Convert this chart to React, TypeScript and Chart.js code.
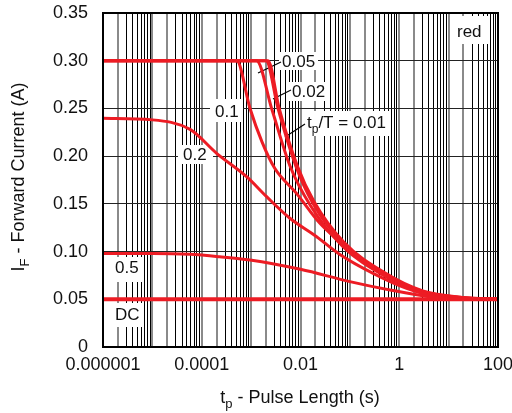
import React, { useEffect, useRef } from "react";
import { Chart, registerables } from "chart.js";

Chart.register(...registerables);

// ---- data (t in seconds, I in amperes) ----
const dcT = [1e-6, 100];
const dcI = [0.05, 0.05];

const d05T = [1e-6, 1e-5, 5.7e-5, 2.3e-4, 9.5e-4, 0.01, 0.1, 0.65, 3, 7.6, 30, 100];
const d05I = [0.098, 0.098, 0.0971, 0.0946, 0.0912, 0.0814, 0.0685, 0.0597, 0.0538, 0.0508, 0.05, 0.05];

const d02T = [1e-6, 1e-5, 5.8e-5, 2e-4, 8.1e-4, 2.06e-3, 6.1e-3, 0.0212, 0.0628, 0.296, 1.41, 6.6, 30, 100];
const d02I = [0.2396, 0.238, 0.228, 0.203, 0.1785, 0.1575, 0.1349, 0.1156, 0.097, 0.0772, 0.0615, 0.052, 0.0501, 0.05];

const d01T = [1e-6, 5.1e-4, 9.5e-4, 1.66e-3, 3.03e-3, 8.3e-3, 0.0247, 0.1, 0.45, 3, 19, 100];
const d01I = [0.3, 0.3, 0.25, 0.215, 0.187, 0.161, 0.1296, 0.1016, 0.0765, 0.057, 0.0515, 0.05];

const d005T = [1e-6, 1.29e-3, 2.6e-3, 6.1e-3, 0.016, 0.07, 0.45, 3, 20, 100];
const d005I = [0.3, 0.3, 0.25, 0.19, 0.148, 0.106, 0.076, 0.0575, 0.0513, 0.05];

const d002T = [1e-6, 2.0e-3, 3.5e-3, 8.0e-3, 0.0178, 0.072, 0.47, 3.05, 19.4, 100];
const d002I = [0.3, 0.3, 0.25, 0.19, 0.1506, 0.1087, 0.0772, 0.058, 0.0517, 0.05];

const d001T = [1e-6, 2.2e-3, 3.7e-3, 8.6e-3, 0.019, 0.075, 0.5, 3.1, 19.4, 100];
const d001I = [0.3, 0.3, 0.25, 0.19, 0.152, 0.11, 0.078, 0.0585, 0.052, 0.05];

const xLabelValues = [1e-6, 1e-4, 1e-2, 1, 100];
const xTickLabels = ["0.000001", "0.0001", "0.01", "1", "100"];
const yTickLabels = ["0", "0.05", "0.10", "0.15", "0.20", "0.25", "0.30", "0.35"];

const RED = "#ED1C24";
const FONT = "'Liberation Sans', Arial, sans-serif";

const pts = (t: number[], i: number[]) => t.map((v, k) => ({ x: v, y: i[k] }));

const series = [
  { t: dcT, i: dcI, w: 4 },
  { t: d05T, i: d05I, w: 3 },
  { t: d02T, i: d02I, w: 3 },
  { t: d01T, i: d01I, w: 3 },
  { t: d005T, i: d005I, w: 3 },
  { t: d002T, i: d002I, w: 3 },
  { t: d001T, i: d001I, w: 3 },
];

const mantissa = (v: number) => {
  const e = Math.floor(Math.log10(v) + 1e-9);
  return Math.round(v / Math.pow(10, e));
};

const annotPlugin = {
  id: "annot",
  beforeDatasetsDraw(chart: any) {
    const ctx = chart.ctx;
    ctx.save();
    ctx.fillStyle = "#fff";
    const boxes = [
      [452, 16, 37, 28],
      [279, 52, 39, 18],
      [289, 82, 39, 19],
      [303, 111, 86, 25],
      [210, 99, 33, 23],
      [178, 145, 35, 19],
      [111, 257, 32, 25],
      [111, 303, 32, 24],
    ];
    boxes.forEach((b) => ctx.fillRect(b[0], b[1], b[2], b[3]));
    ctx.fillStyle = "#111";
    ctx.font = `17px ${FONT}`;
    ctx.textBaseline = "alphabetic";
    ctx.textAlign = "left";
    ctx.fillText("red", 457, 37);
    ctx.fillText("0.05", 282, 67);
    ctx.fillText("0.02", 292, 97);
    ctx.fillText("0.1", 215, 117);
    ctx.fillText("0.2", 183, 160);
    ctx.fillText("0.5", 115, 273);
    ctx.fillText("DC", 115, 320);
    // tp/T = 0.01
    let x = 307;
    ctx.fillText("t", x, 128);
    x += ctx.measureText("t").width;
    ctx.font = `12px ${FONT}`;
    ctx.fillText("p", x, 133);
    x += ctx.measureText("p").width;
    ctx.font = `17px ${FONT}`;
    ctx.fillText("/T = 0.01", x, 128);
    // leaders
    ctx.strokeStyle = "#000";
    ctx.lineWidth = 1.2;
    const leaders = [
      [281, 62, 258, 73],
      [291, 90, 273, 99],
      [305, 124, 285, 137],
    ];
    leaders.forEach((l) => {
      ctx.beginPath();
      ctx.moveTo(l[0], l[1]);
      ctx.lineTo(l[2], l[3]);
      ctx.stroke();
    });
    ctx.restore();
  },
  afterDraw(chart: any) {
    const ctx = chart.ctx;
    const a = chart.chartArea;
    ctx.save();
    ctx.strokeStyle = "#000";
    ctx.lineWidth = 2;
    ctx.strokeRect(a.left, a.top, a.right - a.left, a.bottom - a.top);
    // x title
    ctx.fillStyle = "#111";
    ctx.textBaseline = "alphabetic";
    ctx.textAlign = "left";
    const big = `18px ${FONT}`;
    const small = `13px ${FONT}`;
    ctx.font = big;
    const wT = ctx.measureText("t").width;
    const wRest = ctx.measureText(" - Pulse Length (s)").width;
    ctx.font = small;
    const wP = ctx.measureText("p").width;
    let x = 300 - (wT + wP + wRest) / 2;
    ctx.font = big;
    ctx.fillText("t", x, 403);
    x += wT;
    ctx.font = small;
    ctx.fillText("p", x, 408);
    x += wP;
    ctx.font = big;
    ctx.fillText(" - Pulse Length (s)", x, 403);
    // y title
    ctx.translate(24, 177);
    ctx.rotate(-Math.PI / 2);
    ctx.font = big;
    const wI = ctx.measureText("I").width;
    const wR2 = ctx.measureText(" - Forward Current (A)").width;
    ctx.font = small;
    const wF = ctx.measureText("F").width;
    let y = -(wI + wF + wR2) / 2;
    ctx.font = big;
    ctx.fillText("I", y, 0);
    y += wI;
    ctx.font = small;
    ctx.fillText("F", y, 5);
    y += wF;
    ctx.font = big;
    ctx.fillText(" - Forward Current (A)", y, 0);
    ctx.restore();
  },
};

export default function App() {
  const ref = useRef<HTMLCanvasElement | null>(null);
  useEffect(() => {
    document.body.style.margin = "0";
    const canvas = ref.current!;
    const chart = new Chart(canvas, {
      type: "line",
      data: {
        datasets: series.map((s) => ({
          data: pts(s.t, s.i),
          borderColor: RED,
          borderWidth: s.w,
          pointRadius: 0,
          fill: false,
          cubicInterpolationMode: "monotone" as const,
        })),
      },
      options: {
        animation: false,
        responsive: false,
        devicePixelRatio: 1,
        layout: { autoPadding: false, padding: { left: 0, right: 14, top: 13, bottom: 0 } },
        plugins: { legend: { display: false }, tooltip: { enabled: false } },
        scales: {
          x: {
            type: "logarithmic",
            min: 1e-6,
            max: 100,
            border: { display: false },
            afterBuildTicks: (scale: any) => {
              const ticks: any[] = [];
              for (let e = -6; e <= 2; e++) {
                for (let m = 1; m <= 9; m++) {
                  const v = m * Math.pow(10, e);
                  if (v <= 100.0001) ticks.push({ value: v });
                }
              }
              scale.ticks = ticks;
            },
            afterFit: (scale: any) => {
              scale.height = 66;
              scale.paddingLeft = 0;
              scale.paddingRight = 0;
            },
            grid: {
              drawTicks: false,
              color: (c: any) => {
                const v = c.tick?.value;
                if (!v) return "#000";
                const m = mantissa(v);
                return m === 1 || m === 2 ? "#8a8a8a" : "#000";
              },
              lineWidth: (c: any) => {
                const v = c.tick?.value;
                if (!v) return 1;
                const m = mantissa(v);
                return m === 1 || m === 2 ? 2 : 1;
              },
            },
            ticks: {
              autoSkip: false,
              maxRotation: 0,
              padding: 7,
              color: "#111",
              font: { family: FONT, size: 18 },
              callback: (value: any) => {
                const v = Number(value);
                const k = xLabelValues.findIndex((lv) => Math.abs(Math.log10(v) - Math.log10(lv)) < 1e-6);
                return k >= 0 ? xTickLabels[k] : "";
              },
            },
          },
          y: {
            type: "linear",
            min: 0,
            max: 0.35,
            border: { display: false },
            afterFit: (scale: any) => {
              scale.width = 103;
              scale.paddingTop = 0;
              scale.paddingBottom = 0;
            },
            grid: { drawTicks: false, color: "#222", lineWidth: 1 },
            ticks: {
              stepSize: 0.05,
              padding: 15,
              color: "#111",
              font: { family: FONT, size: 18 },
              callback: (_v: any, index: number) => yTickLabels[index] ?? "",
            },
          },
        },
      },
      plugins: [annotPlugin],
    } as any);
    return () => chart.destroy();
  }, []);
  return (
    <div style={{ position: "absolute", left: 0, top: 0, width: 512, height: 413 }}>
      <canvas ref={ref} width={512} height={413} style={{ display: "block", width: 512, height: 413 }} />
    </div>
  );
}
